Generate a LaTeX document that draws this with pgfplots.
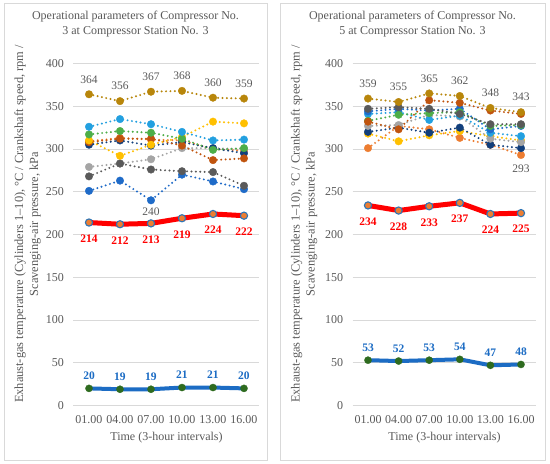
\documentclass[border=0pt]{standalone}
\usepackage{fontspec}
\setmainfont{Liberation Serif}
\usepackage{pgfplots}
\usepackage{pgfplotstable}
\pgfplotsset{compat=1.18}
\definecolor{cBlue}{HTML}{1F6BC8}
\definecolor{cOrange}{HTML}{ED7D31}
\definecolor{cLGray}{HTML}{A5A5A5}
\definecolor{cYellow}{HTML}{FFC000}
\definecolor{cSky}{HTML}{23A0E0}
\definecolor{cGreen}{HTML}{4DAE48}
\definecolor{cDBlue}{HTML}{123F7C}
\definecolor{cRust}{HTML}{C0540E}
\definecolor{cDGray}{HTML}{5A5A5A}
\definecolor{cGold}{HTML}{B8860B}
\definecolor{cRed}{HTML}{FF0000}
\definecolor{cThick}{HTML}{1C6CC4}
\definecolor{cMarkBlue}{HTML}{2E75B6}
\definecolor{cMarkGreen}{HTML}{2E6B1F}
\definecolor{gridc}{HTML}{D9D9D9}
\definecolor{tickc}{HTML}{595959}
\definecolor{framec}{HTML}{D9D9D9}

\pgfplotstableread{
x blueA orange lgray yellow sky green dblue rust dgray gold red thick
0 251 309 279 310 326 317 305 308 268 364 214 20
1 263 313 283 292 335 321 310 312 283 356 212 19
2 240 311 288 305 329 319 304 312 276 367 213 19
3 270 310 301 314 320 312 308 304 274 368 219 21
4 262 300 301 332 310 299 301 287 273 360 224 21
5 253 298 300 330 311 301 295 289 257 359 222 20
}\leftdata

\pgfplotstableread{
x blueA orange lgray yellow sky green dblue rust dgray gold red thick
0 344 301 327 318 341 333 320 332 347 359 234 53
1 347 327 328 309 343 340 325 323 349 355 228 52
2 345 323 340 316 334 342 319 357 347 365 233 53
3 347 313 338 321 339 343 325 354 341 362 237 54
4 323 305 312 315 319 327 305 345 329 348 224 47
5 327 293 308 310 315 328 301 341 329 343 225 48
}\rightdata

\pgfplotsset{
  /pgf/number format/assume math mode=true,
  panel/.style={
    scale only axis, height=342pt,
    xmin=-0.5, xmax=5.5, ymin=0, ymax=400,
    xtick={0,...,5}, xticklabels={01.00,04.00,07.00,10.00,13.00,16.00},
    ytick={0,50,...,400},
    ymajorgrids, major grid style={draw=gridc, line width=0.8pt},
    axis line style={draw=none}, tick style={draw=none},
    ticklabel style={font=\fontsize{12}{13}\selectfont, text=tickc},
    yticklabel style={xshift=-6pt},
    xticklabel style={yshift=-6pt},
    clip=false,
  },
  cyl/.style={draw=#1, line width=2.2pt, dash pattern=on 0pt off 4.4pt, line cap=round,
    mark=*, mark size=3.8pt, mark options={solid, fill=#1, draw=#1, line width=0.3pt}},
  glab/.style={nodes near coords, every node near coord/.append style={anchor=center, yshift=#1,
    text=tickc, font=\fontsize{11.5}{12}\selectfont}},
  redline/.style={draw=cRed, line width=5pt, mark=*, mark size=3.6pt,
    mark options={fill=cOrange, draw=cMarkBlue, line width=1.1pt},
    nodes near coords, every node near coord/.append style={anchor=center, yshift=-16pt,
    text=cRed, font=\bfseries\fontsize{11.5}{12}\selectfont}},
  blueline/.style={draw=cThick, line width=4pt, mark=*, mark size=3.6pt,
    mark options={fill=cMarkGreen, draw=cMarkGreen, line width=0.3pt},
    nodes near coords, every node near coord/.append style={anchor=center, yshift=12.5pt,
    text=cThick, font=\bfseries\fontsize{11.5}{12}\selectfont}},
}

\begin{document}
\begin{tikzpicture}[x=1pt,y=1pt]
\useasboundingbox (0,0) rectangle (550,464);
\fill[white] (0,0) rectangle (550,464);
\draw[framec, line width=0.8pt] (4,4) rectangle (267,461);
\draw[framec, line width=0.8pt] (280,4) rectangle (545,461);

\node[align=center, font=\fontsize{12}{15}\selectfont, text=tickc] at (135.5,439.5)
  {Operational parameters of Compressor No.\\3 at Compressor Station No. 3};
\node[align=center, font=\fontsize{12}{15}\selectfont, text=tickc] at (412.5,439.5)
  {Operational parameters of Compressor No.\\5 at Compressor Station No. 3};
\node[rotate=90, align=center, font=\fontsize{12.4}{15}\selectfont, text=tickc] at (27.5,240)
  {Exhaust-gas temperature (Cylinders 1–10), °C / Crankshaft speed, rpm /\\Scavenging-air pressure, kPa};
\node[rotate=90, align=center, font=\fontsize{12.4}{15}\selectfont, text=tickc] at (304,240)
  {Exhaust-gas temperature (Cylinders 1–10), °C / Crankshaft speed, rpm /\\Scavenging-air pressure, kPa};
\node[font=\fontsize{12}{13}\selectfont, text=tickc] at (166.5,26) {Time (3-hour intervals)};
\node[font=\fontsize{12}{13}\selectfont, text=tickc] at (444.5,26) {Time (3-hour intervals)};

\begin{axis}[panel, width=186pt, at={(73.5pt,58.5pt)}, anchor=south west]
\addplot[cyl=cBlue] table[x=x,y=blueA]{\leftdata};
\addplot[cyl=cOrange] table[x=x,y=orange]{\leftdata};
\addplot[cyl=cLGray] table[x=x,y=lgray]{\leftdata};
\addplot[cyl=cDGray] table[x=x,y=dgray]{\leftdata};
\addplot[cyl=cDBlue] table[x=x,y=dblue]{\leftdata};
\addplot[cyl=cRust] table[x=x,y=rust]{\leftdata};
\addplot[cyl=cYellow] table[x=x,y=yellow]{\leftdata};
\addplot[cyl=cGreen] table[x=x,y=green]{\leftdata};
\addplot[cyl=cSky] table[x=x,y=sky]{\leftdata};
\addplot[cyl=cGold, glab=15pt] table[x=x,y=gold]{\leftdata};
\addplot[draw=none, mark=none, glab=-11pt] coordinates {(2,240)};
\addplot[redline] table[x=x,y=red]{\leftdata};
\addplot[blueline] table[x=x,y=thick]{\leftdata};
\end{axis}

\begin{axis}[panel, width=183.6pt, at={(352.7pt,58.5pt)}, anchor=south west]
\addplot[cyl=cOrange] table[x=x,y=orange]{\rightdata};
\addplot[cyl=cYellow] table[x=x,y=yellow]{\rightdata};
\addplot[cyl=cDBlue] table[x=x,y=dblue]{\rightdata};
\addplot[cyl=cLGray] table[x=x,y=lgray]{\rightdata};
\addplot[cyl=cSky] table[x=x,y=sky]{\rightdata};
\addplot[cyl=cBlue] table[x=x,y=blueA]{\rightdata};
\addplot[cyl=cGreen] table[x=x,y=green]{\rightdata};
\addplot[cyl=cRust] table[x=x,y=rust]{\rightdata};
\addplot[cyl=cDGray] table[x=x,y=dgray]{\rightdata};
\addplot[cyl=cGold, glab=15pt] table[x=x,y=gold]{\rightdata};
\addplot[draw=none, mark=none, glab=-14pt] coordinates {(5,293)};
\addplot[redline] table[x=x,y=red]{\rightdata};
\addplot[blueline] table[x=x,y=thick]{\rightdata};
\end{axis}
\end{tikzpicture}
\end{document}
